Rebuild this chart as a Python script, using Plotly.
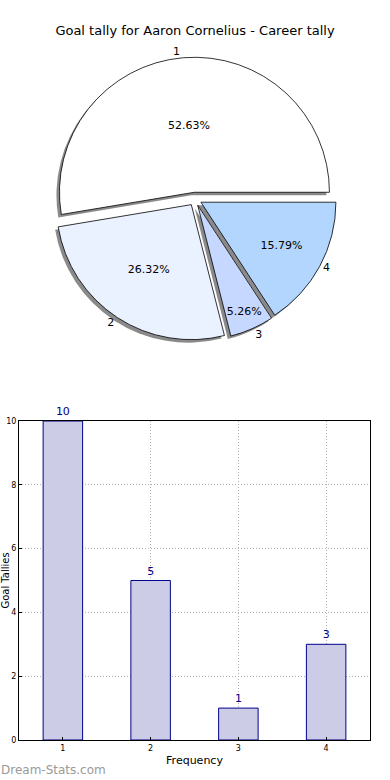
import plotly.graph_objects as go

# Data
categories = ["1", "2", "3", "4"]
tallies = [10, 5, 1, 3]
slice_colors = ["#ffffff", "#eaf1ff", "#c6d8ff", "#b3d6ff"]
pulls = [0.05, 0.05, 0.05, 0.05]
title_text = "Goal tally for Aaron Cornelius - Career tally"
y_ticks = [0, 2, 4, 6, 8, 10]

W, H = 390, 780
ML, MR, MT, MB = 19, 20, 0, 40
PW, PH = W - ML - MR, H - MT - MB

def px_x(x):
    return (x - ML) / PW

def px_y(y):
    return (H - MB - y) / PH

# pie geometry (pixels)
cx, cy, r = 195, 199, 135
half = r * (1 + max(pulls))
dom_x = [px_x(cx - half), px_x(cx + half)]
dom_y = [px_y(cy + half), px_y(cy - half)]
sh = 3
sdom_x = [px_x(cx - half - sh), px_x(cx + half - sh)]
sdom_y = [px_y(cy + half + sh), px_y(cy - half + sh)]

# first slice starts at 3 o'clock and runs counterclockwise (matplotlib style)
rot = 90 - 360 * tallies[0] / sum(tallies)

fig = go.Figure()

common = dict(labels=categories, values=tallies, sort=False,
              direction="counterclockwise", rotation=rot, pull=pulls)

# shadow
fig.add_trace(go.Pie(
    **common, marker=dict(colors=["#8a8a8a"] * 4, line=dict(width=0)),
    textinfo="none", hoverinfo="skip", showlegend=False,
    domain=dict(x=sdom_x, y=sdom_y),
))
# main pie
fig.add_trace(go.Pie(
    **common,
    marker=dict(colors=slice_colors, line=dict(color="#000000", width=0.8)),
    texttemplate="%{percent:.2%}", textposition="inside",
    insidetextorientation="horizontal",
    textfont=dict(family="DejaVu Sans", size=11, color="#000000"),
    showlegend=False, domain=dict(x=dom_x, y=dom_y),
))
# outside labels
fig.add_trace(go.Pie(
    **common,
    marker=dict(colors=["rgba(0,0,0,0)"] * 4, line=dict(width=0)),
    textinfo="label", textposition="outside",
    textfont=dict(family="DejaVu Sans", size=11, color="#000000"),
    hoverinfo="skip", showlegend=False, domain=dict(x=dom_x, y=dom_y),
))

# bar chart
fig.add_trace(go.Bar(
    x=[int(c) for c in categories], y=tallies, width=0.45,
    marker=dict(color="#ccccE6", line=dict(color="#00008b", width=1)),
    text=[str(v) for v in tallies], textposition="outside",
    textfont=dict(family="DejaVu Sans", size=11, color="#00008b"),
    cliponaxis=False, showlegend=False, xaxis="x", yaxis="y",
))

bar_top = px_y(421)
grid = dict(showgrid=True, gridcolor="#b0b0b0", griddash="1px,2px", gridwidth=1)
fig.update_layout(
    width=W, height=H,
    margin=dict(l=ML, r=MR, t=MT, b=MB, autoexpand=False),
    paper_bgcolor="#ffffff", plot_bgcolor="#ffffff",
    font=dict(family="DejaVu Sans", color="#000000"),
    title=dict(text=title_text, x=0.5, xanchor="center", y=1 - 30 / H, yanchor="middle",
               font=dict(family="DejaVu Sans", size=13, color="#000000")),
    xaxis=dict(domain=[0, 1], range=[0.5, 4.5], tickvals=[1, 2, 3, 4], ticktext=categories,
               showline=True, mirror=True, linecolor="#000000", linewidth=1,
               ticks="inside", ticklen=3, tickcolor="#000000", automargin=False,
               zeroline=False, tickfont=dict(size=8), **grid,
               title=dict(text="Frequency", font=dict(size=11), standoff=4)),
    yaxis=dict(domain=[0, bar_top], range=[0, 10], tickvals=y_ticks,
               showline=True, mirror=True, linecolor="#000000", linewidth=1,
               ticks="inside", ticklen=3, tickcolor="#000000", automargin=False,
               zeroline=False, tickfont=dict(size=8), **grid,
               title=dict(text="Goal Tallies", font=dict(size=10), standoff=2)),
    annotations=[dict(text="Dream-Stats.com", xref="paper", yref="paper",
                      x=px_x(-1), y=px_y(770), xanchor="left", yanchor="middle",
                      showarrow=False,
                      font=dict(family="DejaVu Sans", size=12, color="#9a9a9a"))],
)

fig.write_html("out.html", config={"displayModeBar": False},
               post_script="document.body.style.margin='0px';document.body.style.padding='0px';")
